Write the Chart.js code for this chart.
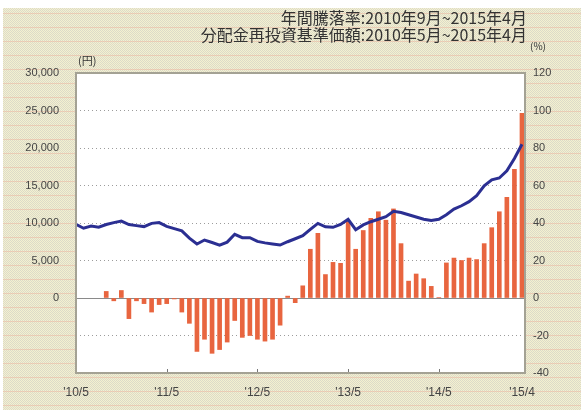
<!DOCTYPE html>
<html>
<head>
<meta charset="utf-8">
<script src="https://cdn.jsdelivr.net/npm/chart.js@4"></script>
<style>
  html, body { margin: 0; padding: 0; background: #fff; }
  canvas { display: block; }
</style>
</head>
<body>
<canvas id="fundChart" width="584" height="412"></canvas>
<script>
// month labels from 2010/5 to 2015/4
const monthLabels = [
    "'10/5", "'10/6", "'10/7", "'10/8", "'10/9", "'10/10", "'10/11", "'10/12",
    "'11/1", "'11/2", "'11/3", "'11/4", "'11/5", "'11/6", "'11/7", "'11/8", "'11/9", "'11/10", "'11/11", "'11/12",
    "'12/1", "'12/2", "'12/3", "'12/4", "'12/5", "'12/6", "'12/7", "'12/8", "'12/9", "'12/10", "'12/11", "'12/12",
    "'13/1", "'13/2", "'13/3", "'13/4", "'13/5", "'13/6", "'13/7", "'13/8", "'13/9", "'13/10", "'13/11", "'13/12",
    "'14/1", "'14/2", "'14/3", "'14/4", "'14/5", "'14/6", "'14/7", "'14/8", "'14/9", "'14/10", "'14/11", "'14/12",
    "'15/1", "'15/2", "'15/3", "'15/4"
];
const labelledMonths = [0, 12, 24, 36, 48, 59];

// 分配金再投資基準価額 (円)
const navValues = [
    9820, 9300, 9600, 9450, 9800, 10050, 10250, 9800, 9650, 9520,
    9950, 10050, 9550, 9250, 8950, 7980, 7200, 7730, 7400, 7060,
    7450, 8490, 8050, 8050, 7550, 7350, 7200, 7060, 7500, 7900,
    8300, 9150, 9950, 9500, 9420, 9800, 10500, 9100, 9750, 10170,
    10500, 10840, 11550, 11400, 11100, 10800, 10500, 10350, 10500, 11100,
    11850, 12300, 12850, 13650, 14950, 15750, 16000, 16950, 18600, 20500
];

// 年間騰落率 (%) from 2010/9
const returnValues = [
    null, null, null, null,
    3.5, -1.5, 4, -11, -1.5, -3, -7.5, -3.5, -3, -0.5,
    -7.5, -13.5, -28.5, -22, -29.5, -27.5, -23.5, -12, -21, -20,
    -22, -23, -22, -14.5, 1, -2.5, 6.5, 26, 34.5, 12.5,
    19, 18.5, 41, 26, 36, 42.5, 46, 41.5, 47.5, 29,
    9, 12.8, 10.3, 6.2, 0.3, 18.7, 21.3, 20, 21.3, 20.5,
    29, 37.5, 46, 53.7, 68.6, 98.5
];

const titleLines = ['年間騰落率:2010年9月~2015年4月', '分配金再投資基準価額:2010年5月~2015年4月'];

const tickFont = { family: 'Liberation Sans', size: 11 };

function makeBackgroundPattern(ctx) {
    const c = document.createElement('canvas');
    c.width = 4;
    c.height = 14;
    const p = c.getContext('2d');
    p.fillStyle = '#f4f1cf';
    p.fillRect(0, 0, 4, 14);
    p.fillStyle = '#dcdac9';
    for (let y = 0; y < 14; y++) {
        for (let x = 0; x < 4; x++) {
            if ((x + y) % 2 === 0) p.fillRect(x, y, 1, 1);
        }
    }
    p.fillStyle = 'rgba(236, 180, 160, 0.5)';
    p.fillRect(0, 13, 4, 1);
    return ctx.createPattern(c, 'repeat');
}

const frameplugin = {
    id: 'frameplugin',
    beforeDraw(chart) {
        const { ctx, chartArea } = chart;
        ctx.save();
        ctx.fillStyle = '#fff';
        ctx.fillRect(0, 0, chart.width, chart.height);
        ctx.fillStyle = '#ebe8cf';
        ctx.fillRect(3, 8, chart.width - 6, chart.height - 10);
        const pat = makeBackgroundPattern(ctx);
        if (pat) {
            ctx.fillStyle = pat;
            ctx.fillRect(3, 8, chart.width - 6, chart.height - 10);
        }
        ctx.fillStyle = '#fff';
        ctx.fillRect(chartArea.left, chartArea.top, chartArea.right - chartArea.left, chartArea.bottom - chartArea.top);
        ctx.restore();
    },
    beforeDatasetsDraw(chart) {
        const { ctx, chartArea } = chart;
        const y0 = Math.round(chart.scales.y1.getPixelForValue(0)) + 0.5;
        ctx.save();
        ctx.strokeStyle = '#8a8a8a';
        ctx.lineWidth = 1;
        ctx.beginPath();
        ctx.moveTo(chartArea.left, y0);
        ctx.lineTo(chartArea.right, y0);
        ctx.stroke();
        ctx.restore();
    },
    afterDraw(chart) {
        const { ctx, chartArea } = chart;
        const x = chart.scales.x;
        ctx.save();
        // inner ticks on the x axis
        ctx.strokeStyle = '#777';
        ctx.lineWidth = 1;
        labelledMonths.slice(1, -1).forEach(m => {
            const px = Math.round(x.getPixelForValue(m)) + 0.5;
            ctx.beginPath();
            ctx.moveTo(px, chartArea.bottom);
            ctx.lineTo(px, chartArea.bottom - 4);
            ctx.stroke();
        });
        // plot frame
        ctx.strokeStyle = '#a4a294';
        ctx.lineWidth = 2;
        ctx.strokeRect(chartArea.left, chartArea.top, chartArea.right - chartArea.left, chartArea.bottom - chartArea.top);

        // texts
        ctx.fillStyle = '#333';
        ctx.textAlign = 'right';
        ctx.textBaseline = 'middle';
        ctx.font = '16px "Noto Sans CJK JP"';
        ctx.fillText(titleLines[0], chartArea.right + 2, 18);
        ctx.fillText(titleLines[1], chartArea.right + 2, 35);
        ctx.textAlign = 'left';
        ctx.font = '11px "Noto Sans CJK JP"';
        ctx.fillText('(円)', chartArea.left + 2, 61);
        ctx.font = '10px "Noto Sans CJK JP"';
        ctx.fillText('(%)', chartArea.right + 5, 46);
        ctx.restore();
    }
};

const ctx = document.getElementById('fundChart').getContext('2d');
new Chart(ctx, {
    type: 'bar',
    data: {
        datasets: [{
            type: 'line',
            label: '分配金再投資基準価額',
            data: navValues.map((v, i) => ({ x: i, y: v })),
            yAxisID: 'y',
            borderColor: '#2b2f92',
            borderWidth: 3,
            pointRadius: 0,
            tension: 0,
            fill: false,
            order: 0
        }, {
            type: 'bar',
            label: '年間騰落率',
            data: returnValues.map((v, i) => ({ x: i, y: v })),
            yAxisID: 'y1',
            backgroundColor: '#e8653f',
            barThickness: 4,
            order: 1
        }]
    },
    options: {
        responsive: false,
        animation: false,
        layout: { padding: { top: 73, left: 0, right: 0, bottom: 0 } },
        plugins: {
            legend: { display: false },
            tooltip: { enabled: false }
        },
        scales: {
            x: {
                type: 'linear',
                offset: false,
                min: 0,
                max: 59.4,
                grid: { display: false },
                border: { display: false },
                afterBuildTicks: scale => {
                    scale.ticks = labelledMonths.map(v => ({ value: v }));
                },
                afterFit: scale => { scale.height = 39; },
                ticks: {
                    autoSkip: false,
                    maxRotation: 0,
                    padding: 4,
                    color: '#444',
                    font: { family: 'Liberation Sans', size: 12 },
                    callback: v => monthLabels[v]
                }
            },
            y: {
                position: 'left',
                min: -10000,
                max: 30000,
                grid: { display: false },
                border: { display: false },
                afterFit: scale => { scale.width = 76; },
                ticks: {
                    stepSize: 5000,
                    padding: 9,
                    color: '#444',
                    font: tickFont,
                    callback: v => (v < 0 ? '' : v.toLocaleString('en-US'))
                }
            },
            y1: {
                position: 'right',
                min: -40,
                max: 120,
                grid: {
                    color: '#9c9c9c',
                    lineWidth: 1,
                    drawTicks: false
                },
                border: { display: false, dash: [1, 3] },
                afterFit: scale => { scale.width = 59; },
                ticks: {
                    stepSize: 20,
                    padding: 8,
                    color: '#444',
                    font: tickFont
                }
            }
        }
    },
    plugins: [frameplugin]
});
</script>
</body>
</html>
